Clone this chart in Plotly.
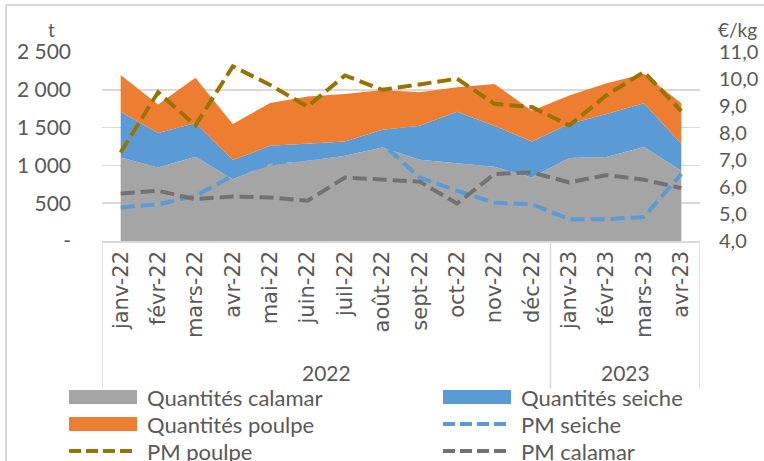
import plotly.graph_objects as go

# ---------------- data ----------------
months = ["janv-22", "févr-22", "mars-22", "avr-22", "mai-22", "juin-22", "juil-22", "août-22",
          "sept-22", "oct-22", "nov-22", "déc-22", "janv-23", "févr-23", "mars-23", "avr-23"]
years = ["2022", "2023"]
months_per_year = [12, 4]

q_calamar = [1105, 972, 1114, 818, 1017, 1060, 1127, 1237, 1075, 1025, 981, 840, 1097, 1110, 1245, 928]
q_seiche = [606, 456, 446, 254, 243, 230, 190, 233, 450, 686, 544, 475, 450, 570, 576, 358]
q_poulpe = [486, 376, 598, 475, 566, 620, 628, 528, 442, 323, 553, 409, 376, 406, 389, 535]

pm_seiche = [5.24, 5.36, 5.67, 6.42, 6.87, 7.05, 7.25, 7.60, 6.35, 5.86, 5.42, 5.36, 4.81, 4.81, 4.89, 6.48]
pm_poulpe = [7.28, 9.51, 8.28, 10.47, 9.78, 8.98, 10.13, 9.60, 9.80, 10.01, 9.08, 8.96, 8.28, 9.40, 10.26, 8.81]
pm_calamar = [5.76, 5.86, 5.55, 5.65, 5.61, 5.49, 6.35, 6.29, 6.20, 5.39, 6.48, 6.54, 6.17, 6.44, 6.27, 5.96]

left_tickvals = [0, 500, 1000, 1500, 2000, 2500]
left_ticktext = ["-", "500", "1 000", "1 500", "2 000", "2 500"]
right_tickvals = [4, 5, 6, 7, 8, 9, 10, 11]
right_ticktext = ["4,0", "5,0", "6,0", "7,0", "8,0", "9,0", "10,0", "11,0"]

left_unit = "t"
right_unit = "€/kg"

# ---------------- style ----------------
W, H = 764, 461
L, R, T, B = 102, 700, 52, 241  # plot area in screen pixels
TXT = "#595959"
GRID = "#D9D9D9"
FONT = "Lato"
C_CAL, C_SEI, C_POU = "#A5A5A5", "#5B9BD5", "#ED7D31"
C_PM_POU, C_PM_CAL = "#997300", "#767171"
DASH = "14px,6px"


def px(x):
    return (x - L) / (R - L)


def py(y):
    return (B - y) / (B - T)


idx = list(range(len(months)))

fig = go.Figure()

for name, vals, col in [("Quantités calamar", q_calamar, C_CAL),
                        ("Quantités seiche", q_seiche, C_SEI),
                        ("Quantités poulpe", q_poulpe, C_POU)]:
    fig.add_trace(go.Scatter(x=idx, y=vals, name=name, mode="lines", stackgroup="q",
                             line=dict(width=0, color=col), fillcolor=col, showlegend=False,
                             hoverinfo="skip"))

for name, vals, col in [("PM seiche", pm_seiche, C_SEI),
                        ("PM poulpe", pm_poulpe, C_PM_POU),
                        ("PM calamar", pm_calamar, C_PM_CAL)]:
    fig.add_trace(go.Scatter(x=idx, y=vals, name=name, mode="lines", yaxis="y2",
                             line=dict(width=4, color=col, dash=DASH), showlegend=False,
                             hoverinfo="skip"))

shapes = []
annotations = []

# outer chart border (extends beyond the crop)
shapes.append(dict(type="rect", xref="paper", yref="paper", x0=px(6), x1=px(820), y0=py(520), y1=py(5),
                   line=dict(color=GRID, width=2), fillcolor="rgba(0,0,0,0)", layer="below"))

# category group separators
bounds = [-0.5]
for n in months_per_year:
    bounds.append(bounds[-1] + n)
for b in bounds:
    shapes.append(dict(type="line", xref="x", yref="paper", x0=b, x1=b, y0=0, y1=py(389),
                       line=dict(color=GRID, width=1.5)))

# year labels
for i, yr in enumerate(years):
    centre = (bounds[i] + bounds[i + 1]) / 2
    annotations.append(dict(text=yr, x=centre, xref="x", y=py(372), yref="paper", showarrow=False,
                            xanchor="center", yanchor="middle", font=dict(family=FONT, size=21, color=TXT)))

# unit labels
annotations.append(dict(text=left_unit, x=px(51), xref="paper", y=py(29), yref="paper", showarrow=False,
                        xanchor="center", yanchor="middle", font=dict(family=FONT, size=19, color=TXT)))
annotations.append(dict(text=right_unit, x=px(737), xref="paper", y=py(29), yref="paper", showarrow=False,
                        xanchor="center", yanchor="middle", font=dict(family=FONT, size=19, color=TXT)))

# legend (manual, two columns)
legend_items = [("Quantités calamar", "box", C_CAL, 69, 397),
                ("Quantités seiche", "box", C_SEI, 443, 397),
                ("Quantités poulpe", "box", C_POU, 69, 424),
                ("PM seiche", "dash", C_SEI, 443, 424),
                ("PM poulpe", "dash", C_PM_POU, 69, 451),
                ("PM calamar", "dash", C_PM_CAL, 443, 451)]
for text, kind, col, x0, yc in legend_items:
    if kind == "box":
        shapes.append(dict(type="rect", xref="paper", yref="paper", x0=px(x0), x1=px(x0 + 68),
                           y0=py(yc + 7), y1=py(yc - 7), line=dict(width=0), fillcolor=col))
    else:
        shapes.append(dict(type="line", xref="paper", yref="paper", x0=px(x0), x1=px(x0 + 68),
                           y0=py(yc), y1=py(yc), line=dict(color=col, width=4, dash="12px,5px")))
    annotations.append(dict(text=text, x=px(x0 + 76), xref="paper", y=py(yc), yref="paper", showarrow=False,
                            xanchor="left", yanchor="middle", font=dict(family=FONT, size=22, color=TXT)))

fig.update_layout(
    width=W, height=H,
    margin=dict(l=L, r=W - R, t=T, b=H - B, pad=0, autoexpand=False),
    paper_bgcolor="white", plot_bgcolor="white",
    showlegend=False,
    font=dict(family=FONT, color=TXT),
    xaxis=dict(range=[-0.5, len(months) - 0.5], tickmode="array", tickvals=idx, ticktext=months,
               tickangle=-90, showgrid=False, zeroline=False, showline=True, linecolor=GRID, linewidth=1.5,
               ticks="", tickfont=dict(family="DejaVu Sans", size=21, color=TXT), automargin=False),
    yaxis=dict(range=[0, 2500], tickmode="array", tickvals=left_tickvals, ticktext=left_ticktext,
               showgrid=True, gridcolor=GRID, gridwidth=1.5, zeroline=False, showline=False, ticks="",
               tickfont=dict(family=FONT, size=21, color=TXT), ticklabelstandoff=30, automargin=False),
    yaxis2=dict(range=[4, 11], overlaying="y", side="right", showgrid=False, zeroline=False,
                tickmode="array", tickvals=right_tickvals, ticktext=right_ticktext,
                tickfont=dict(family=FONT, size=20, color=TXT), ticklabelstandoff=18,
                ticks="", showline=False, automargin=False),
    shapes=shapes,
    annotations=annotations,
)

fig.write_html("out.html", config={"displayModeBar": False, "staticPlot": True},
               post_script="document.body.style.margin='0';")
